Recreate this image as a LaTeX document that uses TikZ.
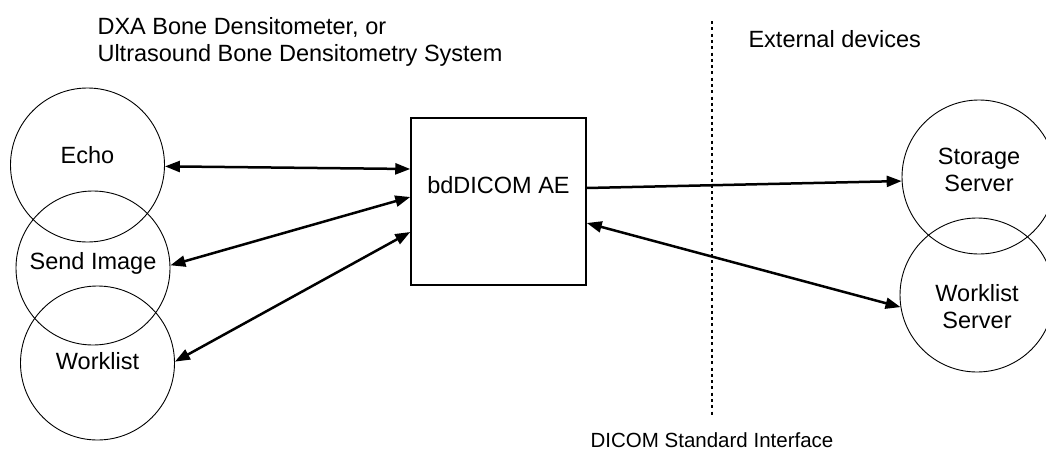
\documentclass[tikz,border=0pt]{standalone}
\usepackage{fontspec}
\setmainfont{Liberation Sans}
\usetikzlibrary{arrows.meta, positioning}
\tikzset{
    unit/.style={circle, draw, line width=0.9pt, minimum size=154pt, inner sep=0pt},
    aebox/.style={rectangle, draw, line width=1.5pt, minimum width=175pt, minimum height=167pt, inner sep=0pt},
    lbl/.style={font=\fontsize{23.5}{27}\selectfont, align=center},
    link/.style={line width=2.5pt, {Triangle[length=15pt, width=11pt]}-{Triangle[length=15pt, width=11pt]}},
    push/.style={line width=2.5pt, -{Triangle[length=15pt, width=11pt]}},
    sep/.style={line width=2.6pt, dash pattern=on 3pt off 3.3pt}
}

\begin{document}
\begin{tikzpicture}[x=1pt, y=-1pt]
    \useasboundingbox (0,0) rectangle (1046,450);

    % Headings
    \node[lbl, align=left, anchor=base west] (sys) at (94,61) {DXA Bone Densitometer, or\\Ultrasound Bone Densitometry System};
    \node[lbl, anchor=base west] (ext) at (745,47) {External devices};
    \node[font=\fontsize{20.5}{24}\selectfont, anchor=base] (ifc) at (712,447) {DICOM Standard Interface};

    % Interface boundary
    \draw[sep] (712,21) -- (712,417);

    % Local functions
    \node[unit, label={[lbl, yshift=9.5pt]center:Echo}] (echo) at (87.5,165) {};
    \node[unit, label={[lbl, yshift=5pt]center:Send Image}] (send) at (93,268) {};
    \node[unit, label={[lbl, yshift=2pt]center:Worklist}] (wl) at (97.5,363) {};

    % Application entity
    \node[aebox, label={[lbl, yshift=16.5pt]center:bdDICOM AE}] (ae) at (498.5,201.5) {};

    % Remote servers
    \node[unit, label={[lbl, yshift=7pt]center:Storage\\Server}] (store) at (979,177) {};
    \node[unit, label={[lbl, yshift=-12pt]center:Worklist\\Server}] (wlsrv) at (977,295) {};

    % Associations
    \draw[link] (echo.-1) -- ([yshift=32.5pt]ae.west);
    \draw[link] (send.2) -- ([yshift=4.5pt]ae.west);
    \draw[link] (wl.1) -- ([yshift=-30.5pt]ae.west);
    \draw[push] ([yshift=13.5pt]ae.east) -- (store.183);
    \draw[link] ([yshift=-21.5pt]ae.east) -- (wlsrv.189);
\end{tikzpicture}
\end{document}
